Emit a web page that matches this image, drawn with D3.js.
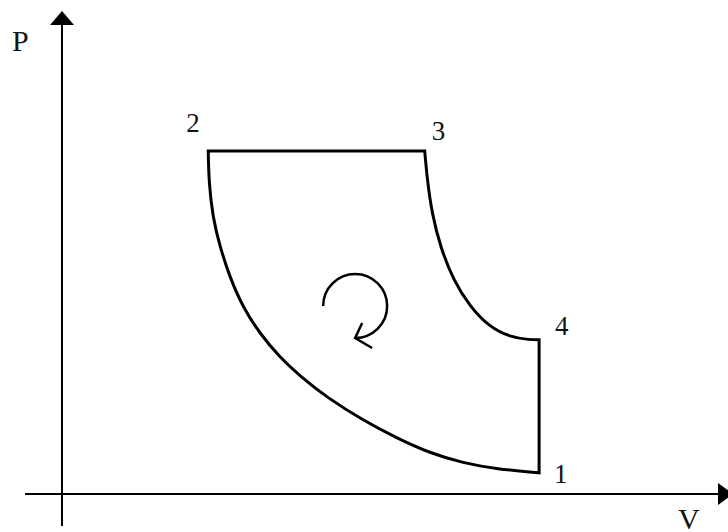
<!DOCTYPE html>
<html>
<head>
<meta charset="utf-8">
<script src="https://cdn.jsdelivr.net/npm/d3@7"></script>
<style>
  html, body { margin: 0; padding: 0; background: #fff; }
  svg { display: block; }
  text { font-family: "Liberation Serif", "DejaVu Serif", serif; fill: #111; }
</style>
</head>
<body>
<svg id="chart" width="728" height="532"></svg>
<script>
// ---- Data (V, P in arbitrary units) ----
// State points of the cycle
const stateLabels = ["1", "2", "3", "4"];
const stateV = [7.34, 2.25, 5.58, 7.34];
const stateP = [0.45, 7.30, 7.30, 3.28];

// Compression curve 2 -> 1
const compV = [2.25, 2.26, 2.32, 2.43, 2.58, 2.78, 3.05, 3.35, 3.66, 4.09, 4.63, 5.15, 5.66, 6.17, 6.69, 7.34];
const compP = [7.30, 6.62, 5.89, 5.26, 4.62, 3.98, 3.40, 2.91, 2.51, 2.04, 1.57, 1.19, 0.87, 0.66, 0.53, 0.45];

// Expansion curve 3 -> 4
const expV = [5.58, 5.62, 5.69, 5.82, 6.02, 6.28, 6.58, 6.89, 7.20, 7.34];
const expP = [7.30, 6.68, 5.98, 5.26, 4.55, 3.98, 3.55, 3.34, 3.28, 3.28];

// Axis titles
const axisTitles = ["P", "V"];

// Cycle direction indicator centre (data units)
const loopCenter = [4.51, 4.0];

// ---- Scales ----
const x = d3.scaleLinear().domain([0, 10]).range([62, 712]);
const y = d3.scaleLinear().domain([0, 10]).range([494, 24]);

const svg = d3.select("#chart");

// ---- Axes (no ticks) ----
const x0 = x(0), y0 = y(0);
const axisG = svg.append("g").attr("stroke", "#000").attr("stroke-width", 2);
axisG.append("line").attr("x1", x0).attr("x2", x0).attr("y1", 526).attr("y2", 24);
axisG.append("line").attr("x1", 25).attr("x2", 719).attr("y1", y0).attr("y2", y0);
svg.append("path")
  .attr("d", `M${x0 - 12},25 L${x0 + 12},25 L${x0},11 Z`)
  .attr("fill", "#000");
svg.append("path")
  .attr("d", `M718,${y0 - 11} L718,${y0 + 11} L733,${y0} Z`)
  .attr("fill", "#000");

svg.append("text").attr("x", 12).attr("y", 50.5).attr("font-size", 30).text(axisTitles[0]);
svg.append("text").attr("x", 678).attr("y", 529).attr("font-size", 30).text(axisTitles[1]);

// ---- Cycle path ----
const line = d3.line()
  .x(d => x(d[0])).y(d => y(d[1]))
  .curve(d3.curveBasis);

const compPts = compV.map((v, i) => [v, compP[i]]).reverse(); // 1 -> 2
const expPts = expV.map((v, i) => [v, expP[i]]);               // 3 -> 4

const dComp = line(compPts);
const dExp = line(expPts).replace(/^M/, "L");
const dCycle = dComp + `L${x(stateV[2])},${y(stateP[2])}` + dExp + "Z";

svg.append("path")
  .attr("d", dCycle)
  .attr("fill", "none")
  .attr("stroke", "#000")
  .attr("stroke-width", 3)
  .attr("stroke-linejoin", "miter");

// ---- State labels ----
const labelOffsets = [[15, 10], [-22, -19], [7, -11], [16, -5]];
svg.selectAll("text.state")
  .data(stateLabels)
  .join("text")
  .attr("class", "state")
  .attr("font-size", 27)
  .attr("x", (d, i) => x(stateV[i]) + labelOffsets[i][0])
  .attr("y", (d, i) => y(stateP[i]) + labelOffsets[i][1])
  .text(d => d);

// ---- Circular arrow (clockwise) ----
const cx = x(loopCenter[0]), cy = y(loopCenter[1]);
const r = 32;
const p = d3.path();
p.arc(cx, cy, r, Math.PI, 2.5 * Math.PI, false);
svg.append("path")
  .attr("d", p.toString())
  .attr("fill", "none").attr("stroke", "#000").attr("stroke-width", 2.5);
const tipX = cx, tipY = cy + r;
svg.append("path")
  .attr("d", `M${tipX + 7},${tipY - 15} L${tipX},${tipY} L${tipX + 17},${tipY + 10}`)
  .attr("fill", "none").attr("stroke", "#000").attr("stroke-width", 2.5)
  .attr("stroke-linejoin", "miter");
</script>
</body>
</html>
